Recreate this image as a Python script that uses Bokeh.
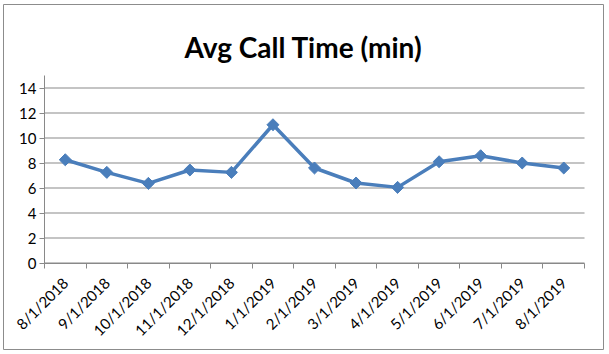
import math
from bokeh.plotting import figure
from bokeh.models import FixedTicker, ColumnDataSource, Range1d, Label
from bokeh.embed import file_html
from bokeh.resources import INLINE

# ---- data ----
months = ["8/1/2018", "9/1/2018", "10/1/2018", "11/1/2018", "12/1/2018",
          "1/1/2019", "2/1/2019", "3/1/2019", "4/1/2019", "5/1/2019",
          "6/1/2019", "7/1/2019", "8/1/2019"]
avg_call_time = [8.26, 7.25, 6.37, 7.44, 7.25, 11.06, 7.6, 6.4, 6.05, 8.1, 8.58, 8.0, 7.6]
y_ticks = [0, 2, 4, 6, 8, 10, 12, 14]
y_max = 15
title_text = "Avg Call Time (min)"

FONT = "Lato"
BLUE = "#4A7EBB"
GRAY = "#898989"

n = len(months)
xpos = [i + 0.5 for i in range(n)]
src = ColumnDataSource(dict(x=xpos, y=avg_call_time, month=months))

# frame = whole chart area (its outline is the chart border); the plot area sits inside
X0, X1 = -0.987, n + 0.457
Y0, Y1 = -6.92, 20.68
p = figure(width=609, height=354, output_backend="svg", toolbar_location=None,
           x_range=Range1d(X0, X1), y_range=Range1d(Y0, Y1),
           min_border_left=3, min_border_right=6, min_border_top=4,
           min_border_bottom=5)
p.background_fill_color = "white"
p.border_fill_color = "white"
p.outline_line_color = "#8c8c8c"
p.outline_line_width = 1

# horizontal gridlines across the plot area
p.segment(x0=[0] * len(y_ticks), x1=[n] * len(y_ticks), y0=y_ticks, y1=y_ticks,
          line_color=GRAY, line_width=1)

# x axis (ticks between categories, labels at centers)
p.xaxis.fixed_location = 0
p.xaxis.bounds = (0, n)
p.xaxis.ticker = FixedTicker(ticks=xpos, minor_ticks=list(range(n + 1)))
p.xaxis.major_label_overrides = {x: m for x, m in zip(xpos, months)}
p.xaxis.major_label_orientation = math.pi / 4
p.xaxis.major_tick_line_color = None
p.xaxis.minor_tick_line_color = GRAY
p.xaxis.minor_tick_in = 0
p.xaxis.minor_tick_out = 5
p.xaxis.axis_line_color = GRAY
p.xaxis.major_label_text_font = FONT
p.xaxis.major_label_text_font_size = "15px"
p.xaxis.major_label_text_color = "black"
p.xaxis.major_label_standoff = 11

# y axis
p.yaxis.fixed_location = 0
p.yaxis.bounds = (0, y_max)
p.yaxis.ticker = FixedTicker(ticks=y_ticks, minor_ticks=[])
p.yaxis.axis_line_color = GRAY
p.yaxis.major_tick_line_color = GRAY
p.yaxis.major_tick_in = 0
p.yaxis.major_tick_out = 5
p.yaxis.minor_tick_line_color = None
p.yaxis.major_label_text_font = FONT
p.yaxis.major_label_text_font_size = "15px"
p.yaxis.major_label_text_color = "black"
p.yaxis.major_label_standoff = 3

p.xgrid.grid_line_color = None
p.ygrid.grid_line_color = None

# series
p.line("x", "y", source=src, line_color=BLUE, line_width=3.5)
p.scatter("x", "y", source=src, marker="square", size=8.5, angle=math.pi / 4,
          fill_color=BLUE, line_color=BLUE)

# title centred on the chart area
p.add_layout(Label(x=(X0 + X1) / 2, y=17.26, text=title_text, text_align="center",
                   text_baseline="alphabetic", text_font=FONT,
                   text_font_size="28px", text_font_style="bold", text_color="black"))

open("out.html", "w").write(file_html(p, INLINE))
